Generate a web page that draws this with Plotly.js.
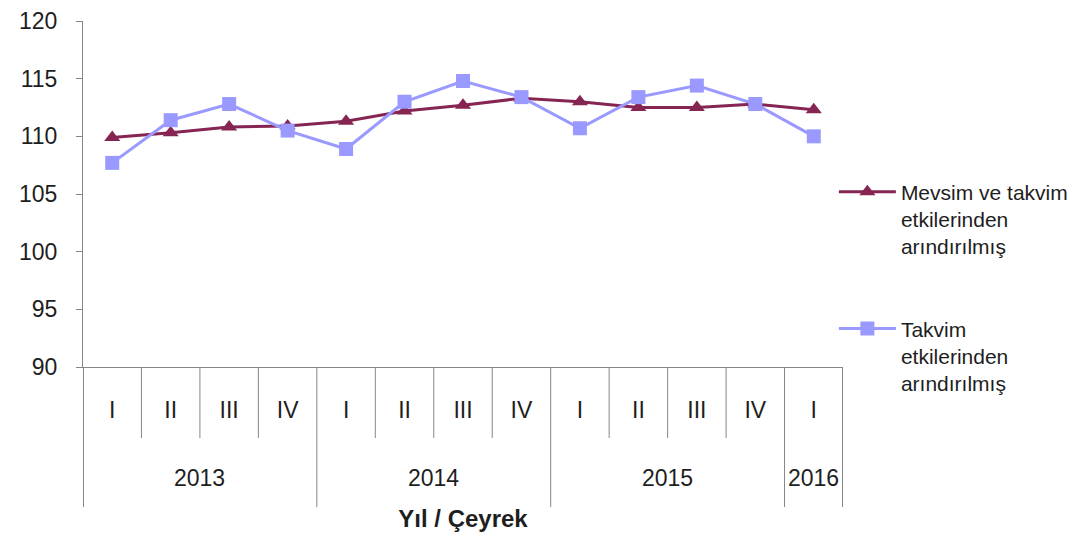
<!DOCTYPE html>
<html>
<head>
<meta charset="utf-8">
<script src="https://cdn.plot.ly/plotly-3.0.1.min.js"></script>
<style>
  html, body { margin: 0; padding: 0; background: #ffffff; }
  #chart { width: 1092px; height: 536px; }
</style>
</head>
<body>
<div id="chart"></div>
<script>
// ---- data ----
var years = ["2013", "2013", "2013", "2013", "2014", "2014", "2014", "2014", "2015", "2015", "2015", "2015", "2016"];
var quarters = ["I", "II", "III", "IV", "I", "II", "III", "IV", "I", "II", "III", "IV", "I"];
var seasonalAdjusted = [109.9, 110.3, 110.8, 110.9, 111.3, 112.2, 112.7, 113.3, 113.0, 112.5, 112.5, 112.8, 112.3];
var calendarAdjusted = [107.7, 111.4, 112.8, 110.5, 108.9, 113.0, 114.8, 113.4, 110.7, 113.4, 114.4, 112.8, 110.0];
var seriesNames = ["Mevsim ve takvim<br>etkilerinden<br>arındırılmış", "Takvim<br>etkilerinden<br>arındırılmış"];
var yTicks = [90, 95, 100, 105, 110, 115, 120];
var axisTitle = "Yıl / Çeyrek";

var FONT = "Liberation Sans, Arial, sans-serif";
var TEXT = "#1e1e1e";
var AXIS = "#868686";

var idx = quarters.map(function (q, i) { return i; });

var traces = [
  {
    x: idx, y: seasonalAdjusted, name: seriesNames[0], legendgroup: "a",
    type: "scatter", mode: "lines+markers",
    line: { color: "#862552", width: 3 },
    marker: { symbol: "triangle-up", size: 14, color: "#862552" }
  },
  {
    x: idx, y: calendarAdjusted, name: seriesNames[1], legendgroup: "b",
    type: "scatter", mode: "lines+markers",
    line: { color: "#9999FF", width: 3 },
    marker: { symbol: "square", size: 14, color: "#9999FF" }
  }
];

// category dividers below the axis
var shapes = [];
for (var b = 0; b <= quarters.length; b++) {
  var isYear = (b === 0 || b === quarters.length || years[b] !== years[b - 1]);
  var edge = (b === 0 || b === quarters.length);
  shapes.push({
    type: "line", xref: "x", yref: "paper", ysizemode: "pixel", yanchor: 0,
    x0: b - 0.5, x1: b - 0.5, y0: 0, y1: isYear ? -140 : -71,
    line: { color: AXIS, width: edge ? 2 : 1 }
  });
}

// year labels
var annotations = [];
var uniqYears = years.filter(function (y, i) { return years.indexOf(y) === i; });
uniqYears.forEach(function (yr) {
  var ii = idx.filter(function (i) { return years[i] === yr; });
  var mid = (ii[0] + ii[ii.length - 1]) / 2;
  annotations.push({
    text: yr, x: mid, xref: "x", y: 0, yref: "paper", yanchor: "middle",
    yshift: -111, showarrow: false, font: { family: FONT, size: 23, color: TEXT }
  });
});

var layout = {
  width: 1092, height: 536, autosize: false,
  margin: { l: 83, r: 249, t: 21, b: 169 },
  paper_bgcolor: "#ffffff", plot_bgcolor: "#ffffff",
  font: { family: FONT, size: 23, color: TEXT },
  showlegend: true,
  xaxis: {
    range: [-0.5, quarters.length - 0.5],
    tickmode: "array", tickvals: idx, ticktext: quarters,
    ticks: "", showgrid: false, zeroline: false,
    showline: true, linecolor: AXIS, linewidth: 1,
    ticklabelstandoff: 22,
    tickfont: { family: FONT, size: 23, color: TEXT },
    title: { text: axisTitle, standoff: 88, font: { family: FONT, size: 24, color: TEXT, weight: "bold" } },
    automargin: false, fixedrange: true
  },
  yaxis: {
    range: [90, 120], tickmode: "array", tickvals: yTicks,
    ticks: "outside", ticklen: 6, tickcolor: AXIS, tickwidth: 1,
    showgrid: false, zeroline: false,
    showline: true, linecolor: AXIS, linewidth: 1,
    ticklabelstandoff: 14,
    tickfont: { family: FONT, size: 23, color: TEXT },
    automargin: false, fixedrange: true
  },
  legend: {
    x: 0.988, xanchor: "left", y: 0.565, yanchor: "top",
    orientation: "v", valign: "top", traceorder: "grouped",
    tracegroupgap: 52, itemwidth: 57,
    font: { family: FONT, size: 21, color: TEXT },
    bgcolor: "rgba(0,0,0,0)", borderwidth: 0
  },
  shapes: shapes,
  annotations: annotations
};

Plotly.newPlot("chart", traces, layout, { displayModeBar: false, staticPlot: true });
</script>
</body>
</html>
